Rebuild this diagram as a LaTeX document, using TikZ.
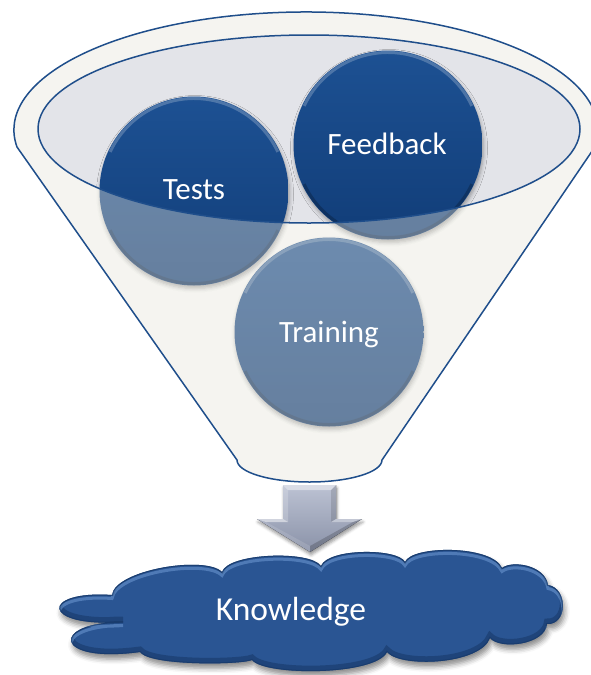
\documentclass[tikz,border=0pt]{standalone}
\usepackage{fontspec}
\setmainfont{Carlito}
\usetikzlibrary{shadows.blur}

\definecolor{rimblue}{HTML}{1F4E8B}
\definecolor{balltop}{HTML}{1D5193}
\definecolor{ballbot}{HTML}{113D78}
\definecolor{mouth}{HTML}{E3E4E9}
\definecolor{bodyfill}{HTML}{E5E3D9}
\definecolor{cloudblue}{HTML}{2A5593}
\definecolor{cloudlight}{HTML}{6E9AD3}
\definecolor{clouddark}{HTML}{163766}
\definecolor{arrowtop}{HTML}{BCC2D3}
\definecolor{arrowbot}{HTML}{8A92A8}

% outline of the knowledge cloud (coordinates in pixels, y pointing down)
\newcommand\knowcloud{(112,595) .. controls (115,570) and (205,555) .. (222,572)
  .. controls (228,553) and (310,550) .. (321,566)
  .. controls (328,548) and (398,548) .. (405,562)
  .. controls (412,545) and (492,545) .. (502,568)
  .. controls (512,560) and (545,565) .. (548,585)
  .. controls (568,588) and (568,625) .. (547,624)
  .. controls (545,645) and (500,650) .. (490,638)
  .. controls (480,665) and (400,668) .. (387,652)
  .. controls (375,676) and (265,676) .. (252,660)
  .. controls (240,665) and (150,666) .. (140,652)
  .. controls (52,664) and (50,622) .. (123,622)
  .. controls (40,628) and (40,590) .. (112,595) -- cycle}

% funnel body outline
\newcommand\funnelbody{(17,147) arc[start angle=188.3, end angle=-8.3, x radius=292pt, y radius=118pt]
  -- (382,460) arc[start angle=0, end angle=-180, x radius=72.5pt, y radius=22pt] -- cycle}

\tikzset{
  ball/.style={circle, minimum size=189pt, inner sep=0pt,
    top color=balltop, bottom color=ballbot,
    blur shadow={shadow xshift=1pt, shadow yshift=-3pt, shadow opacity=35, shadow blur radius=4pt},
    path picture={
      \draw[white, opacity=0.22, line width=3pt] (path picture bounding box.center)
        ++(155:92.5pt) arc[start angle=155, end angle=25, radius=92.5pt];
      \draw[black, opacity=0.22, line width=3pt] (path picture bounding box.center)
        ++(205:92.5pt) arc[start angle=205, end angle=335, radius=92.5pt];
    }},
  lbl/.style={text=white, inner sep=0pt, anchor=base, font=\fontsize{31}{31}\selectfont},
  rim/.style={draw=rimblue, line width=1.5pt, line join=round}
}

\begin{document}
\begin{tikzpicture}[x=1pt, y=-1pt]
\useasboundingbox (0,0) rectangle (590,675);

% funnel mouth
\fill[mouth] (309,129) ellipse[x radius=271pt, y radius=94pt];

% the three balls
\node[ball] (tests) at (194,191) {};
\node[ball] (feedback) at (388,145) {};
\node[ball] (training) at (329,332) {};

% translucent funnel body over the balls
\fill[bodyfill, opacity=0.4, even odd rule] \funnelbody
  (309,129) ellipse[x radius=271pt, y radius=94pt];
\path[rim] \funnelbody;
\path[rim] (309,129) ellipse[x radius=271pt, y radius=94pt];

% ball labels
\node[lbl] (tests-text) at (194,199) {Tests};
\node[lbl] (feedback-text) at (387,154) {Feedback};
\node[lbl] (training-text) at (329,342) {Training};

% knowledge cloud
\fill[cloudblue, blur shadow={shadow xshift=2pt, shadow yshift=-5pt, shadow opacity=45, shadow blur radius=5pt}] \knowcloud;
\begin{scope}
  \clip \knowcloud;
  \draw[clouddark, line width=6pt, opacity=0.55, yshift=2.5pt] \knowcloud;
  \draw[cloudlight, line width=3pt, opacity=0.55, yshift=-3.5pt] \knowcloud;
  \draw[clouddark, line width=2pt, opacity=0.6] \knowcloud;
\end{scope}
\node[lbl, font=\fontsize{33.5}{34}\selectfont] (knowledge) at (291,620) {Knowledge};

% down arrow from the funnel to the cloud
\fill[top color=arrowtop, bottom color=arrowbot,
  blur shadow={shadow xshift=1pt, shadow yshift=-3pt, shadow opacity=40, shadow blur radius=3pt}]
  (283,485) -- (336,485) -- (336,519) -- (362,519) -- (310,552) -- (257,519) -- (283,519) -- cycle;
\fill[white, opacity=0.45] (283,485) -- (336,485) -- (331,490) -- (288,490) -- cycle;
\fill[white, opacity=0.2] (283,485) -- (288,490) -- (288,522) -- (283,519) -- cycle;
\fill[black, opacity=0.12] (336,485) -- (331,490) -- (331,522) -- (336,519) -- cycle;
\fill[white, opacity=0.5] (257,519) -- (283,519) -- (288,522) -- (266,522) -- cycle;
\fill[white, opacity=0.35] (336,519) -- (362,519) -- (353,522) -- (331,522) -- cycle;
\fill[white, opacity=0.12] (257,519) -- (266,522) -- (310,546) -- (310,552) -- cycle;
\fill[black, opacity=0.18] (362,519) -- (353,522) -- (310,546) -- (310,552) -- cycle;
\end{tikzpicture}
\end{document}
